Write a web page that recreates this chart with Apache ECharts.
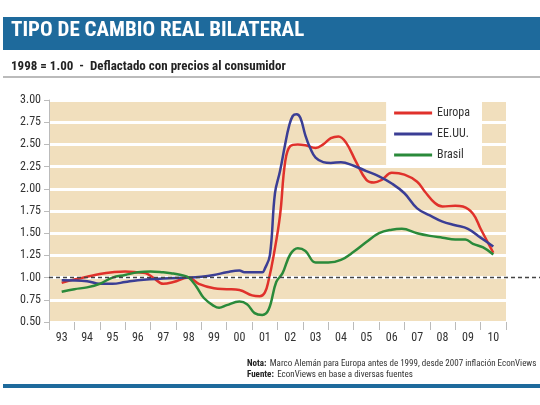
<!DOCTYPE html>
<html>
<head>
<meta charset="utf-8">
<script src="https://cdn.jsdelivr.net/npm/echarts@6/dist/echarts.min.js"></script>
<style>html,body{margin:0;padding:0;background:#fff}#c{width:540px;height:405px}</style>
</head>
<body>
<div id="c"></div>
<script>
var FONT = '"Liberation Sans Narrow", "Roboto Condensed", "Liberation Sans", sans-serif';
var years = ['93','94','95','96','97','98','99','00','01','02','03','04','05','06','07','08','09','10'];
var yTicks = [0.5, 3.0, 0.25];

// [year, value]
var europa = [[1993,0.94],[1993.5,0.98],[1994,1.01],[1994.5,1.04],[1995,1.06],[1995.5,1.07],[1996,1.06],[1996.3,1.05],
  [1996.6,1.0],[1997,0.93],[1997.4,0.95],[1998,1.0],[1998.4,0.93],[1999,0.88],[1999.5,0.87],[2000,0.86],[2000.5,0.80],
  [2000.8,0.79],[2001,0.83],[2001.15,0.97],[2001.35,1.25],[2001.6,1.7],[2001.8,2.3],[2002,2.48],[2002.3,2.5],[2002.6,2.49],
  [2003,2.46],[2003.3,2.5],[2003.6,2.57],[2003.9,2.59],[2004.2,2.52],[2004.6,2.3],[2005,2.1],[2005.3,2.07],[2005.6,2.1],
  [2006,2.18],[2006.5,2.16],[2007,2.08],[2007.3,1.97],[2007.7,1.84],[2008,1.8],[2008.5,1.81],[2008.8,1.8],[2009.2,1.72],
  [2009.5,1.55],[2010,1.28]];
var eeuu = [[1993,0.97],[1994,0.96],[1994.5,0.93],[1995,0.93],[1995.5,0.95],[1996,0.97],[1997,0.99],[1998,1.0],[1998.5,1.01],
  [1999,1.03],[1999.5,1.06],[2000,1.08],[2000.2,1.06],[2000.9,1.06],[2001,1.1],[2001.2,1.25],[2001.4,1.95],[2001.6,2.2],
  [2001.8,2.5],[2001.95,2.7],[2002.1,2.82],[2002.25,2.84],[2002.4,2.8],[2002.6,2.6],[2002.8,2.45],[2003,2.35],[2003.3,2.3],
  [2003.6,2.29],[2004,2.3],[2004.5,2.26],[2005,2.2],[2005.5,2.14],[2006,2.06],[2006.5,1.95],[2007,1.78],[2007.5,1.7],
  [2008,1.63],[2008.5,1.59],[2009,1.55],[2009.5,1.45],[2010,1.35]];
var brasil = [[1993,0.84],[1993.5,0.87],[1994,0.89],[1994.5,0.93],[1995,1.0],[1995.5,1.03],[1996,1.06],[1996.5,1.07],[1997,1.06],
  [1997.3,1.05],[1997.7,1.03],[1998,1.0],[1998.3,0.9],[1998.6,0.77],[1999,0.68],[1999.2,0.66],[1999.5,0.69],[2000,0.73],
  [2000.3,0.7],[2000.6,0.6],[2000.9,0.58],[2001.15,0.64],[2001.45,0.95],[2001.7,1.05],[2002,1.26],[2002.3,1.33],[2002.6,1.3],
  [2003,1.17],[2003.5,1.17],[2004,1.2],[2004.5,1.29],[2005,1.4],[2005.5,1.5],[2006,1.54],[2006.4,1.55],[2007,1.5],
  [2007.5,1.47],[2008,1.45],[2008.5,1.43],[2008.9,1.43],[2009.2,1.38],[2009.6,1.34],[2010,1.26]];

var chart = echarts.init(document.getElementById('c'));
function line(name, data, color) {
  return {name: name, type: 'line', xAxisIndex: 1, data: data, smooth: 0.4, symbol: 'none',
    lineStyle: {color: color, width: 2.5}, itemStyle: {color: color}};
}
var option = {
  animation: false,
  textStyle: {fontFamily: FONT},
  grid: {left: 49, right: 34, top: 100, bottom: 83, show: true, backgroundColor: '#f1dfbd', borderWidth: 0},
  legend: {
    orient: 'vertical', right: 58, top: 101, itemGap: 9, itemWidth: 38, itemHeight: 3,
    backgroundColor: '#fff', padding: [6, 12, 6, 8], icon: 'rect',
    textStyle: {fontFamily: FONT, fontSize: 12, color: '#333'},
    data: ['Europa', 'EE.UU.', 'Brasil']
  },
  xAxis: [
    {type: 'category', data: years, boundaryGap: true,
      axisLine: {show: false}, axisTick: {show: true, length: 8, lineStyle: {color: '#bbb'}, interval: 0},
      axisLabel: {color: '#333', fontSize: 12, fontFamily: FONT, interval: 0, margin: 10}},
    {type: 'value', min: 1992.5, max: 2010.5, show: false}
  ],
  yAxis: {
    type: 'value', min: yTicks[0], max: yTicks[1], interval: yTicks[2],
    axisLine: {show: true, lineStyle: {color: '#bbb'}}, axisTick: {show: true, length: 5, lineStyle: {color: '#bbb'}},
    axisLabel: {color: '#333', fontSize: 12, fontFamily: FONT, formatter: function (v) { return v.toFixed(2); }},
    splitLine: {show: true, lineStyle: {color: '#fff', width: 3}}
  },
  series: [line('Europa', europa, '#e0312b'), line('EE.UU.', eeuu, '#3b3e95'), line('Brasil', brasil, '#2a8a3a')]
};
chart.setOption(option);
var y1 = chart.convertToPixel({yAxisIndex: 0}, 1.0);
chart.setOption({
  graphic: [
    {type: 'rect', shape: {x: 3, y: 17, width: 537, height: 33}, style: {fill: '#1e6a9c'}},
    {type: 'text', left: 11, top: 20, style: {text: 'TIPO DE CAMBIO REAL BILATERAL', fill: '#fff', font: 'bold 21px ' + FONT}},
    {type: 'text', left: 11, top: 60, style: {text: '1998 = 1.00  -  Deflactado con precios al consumidor', fill: '#222', font: 'bold 13px ' + FONT}},
    {type: 'rect', shape: {x: 3, y: 76, width: 537, height: 2}, style: {fill: '#bbb'}},
    {type: 'line', z: 10, shape: {x1: 49, y1: y1, x2: 540, y2: y1}, style: {stroke: '#444', lineWidth: 1.5, lineDash: [4, 3]}},
    {type: 'text', left: 247, top: 358, style: {rich: {b: {font: 'bold 9px ' + FONT, fill: '#222'}, n: {font: '9px ' + FONT, fill: '#333'}},
      text: '{b|Nota:} {n|Marco Alemán para Europa antes de 1999, desde 2007 inflación EconViews}\n{b|Fuente:} {n|EconViews en base a diversas fuentes}', lineHeight: 11}},
    {type: 'rect', shape: {x: 3, y: 384, width: 537, height: 4}, style: {fill: '#1e6a9c'}}
  ]
});
</script>
</body>
</html>
